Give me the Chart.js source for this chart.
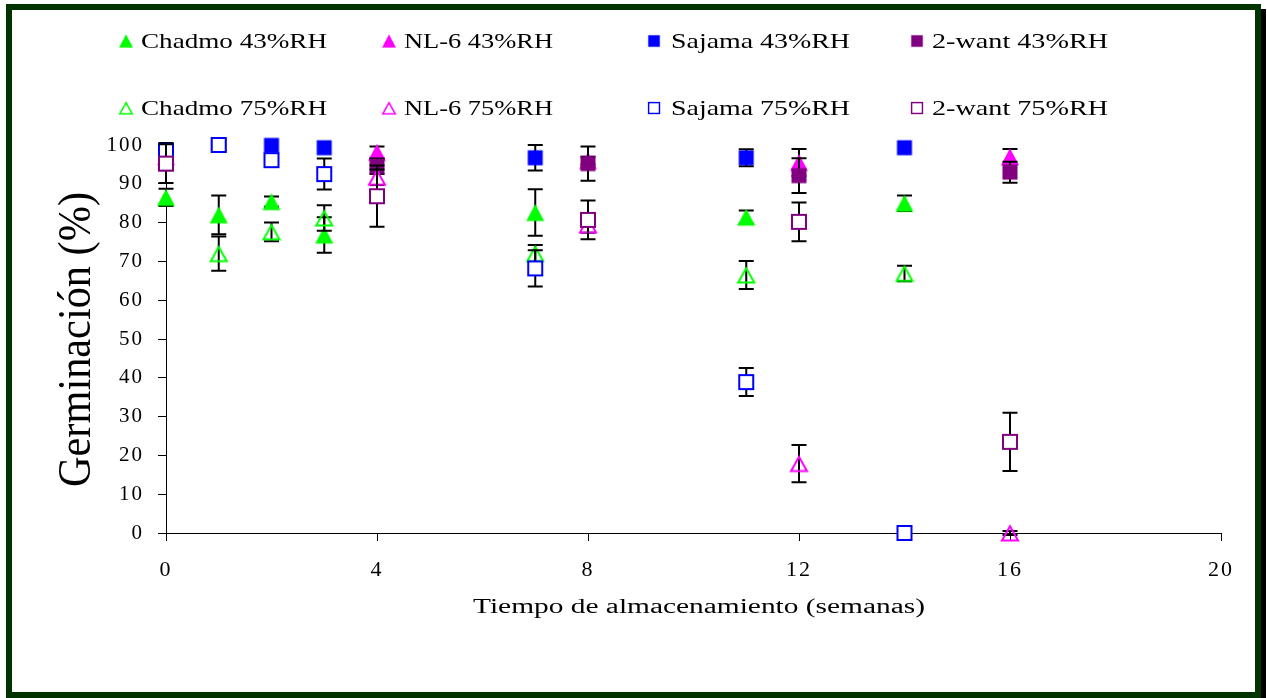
<!DOCTYPE html>
<html>
<head>
<meta charset="utf-8">
<title>Germinación</title>
<script src="https://cdn.jsdelivr.net/npm/chart.js@4.4.1/dist/chart.umd.min.js"></script>
<style>
  html, body { margin: 0; padding: 0; background: #fff; }
  #wrap { position: relative; width: 1267px; height: 698px; overflow: hidden; }
  #chart { position: absolute; left: 0; top: 0; }
  #frame {
    position: absolute; left: 6px; top: 4px; width: 1255px; height: 694px;
    box-sizing: border-box; border: 6px solid #003300;
    box-shadow: 5px 5px 0 #000; pointer-events: none;
  }
</style>
</head>
<body>
<div id="wrap">
  <canvas id="chart" width="1267" height="698"></canvas>
  <div id="frame"></div>
</div>
<script>
// sampling weeks: Chadmo and Sajama on one schedule, NL-6 and 2-want on another
const weeksA = [0, 1, 2, 3, 7, 11, 14];
const weeksB = [0, 4, 8, 12, 16];

const chadmo43 = [86.5, 82, 85.4, 76.8, 82.6, 81.4, 85];
const chadmo43Err = [2.2, 5, 1.3, 4.6, 6, 1.7, 2];
const chadmo75 = [null, 72, 77.6, 81.2, 72, 66.5, 66.9];
const chadmo75Err = [null, 4.4, 2.4, 3.3, 2.2, 3.6, 2];

const sajama43 = [98.5, 100, 99.9, 99.3, 96.7, 96.7, 99.3];
const sajama43Err = [null, null, null, null, 3.3, 2.2, null];
const sajama75 = [98.5, 100, 96.1, 92.5, 68.2, 38.9, 0];
const sajama75Err = [2, 1.5, 1.5, 4, 4.7, 3.6, 0.3];

const nl643 = [97, 98.1, 96, 95.5, 97];
const nl643Err = [1, 1.5, 1, 3.5, 2];
const nl675 = [null, 91.7, 79.4, 17.9, 0];
const nl675Err = [null, 2, 2, 4.8, 0.5];

const want43 = [95.2, 94.5, 95.2, 92.1, 93];
const want43Err = [1, 2, 4.4, 4.5, 2.7];
const want75 = [95.2, 86.8, 80.7, 80.2, 23.5];
const want75Err = [5, 7.9, 5, 5, 7.5];

const xTicks = [0, 4, 8, 12, 16, 20];
const yTicks = [0, 10, 20, 30, 40, 50, 60, 70, 80, 90, 100];

const GREEN = "#00ff00", MAGENTA = "#ff00ff", BLUE = "#0000ff", PURPLE = "#800080";
const SERIF = '"Liberation Serif", "Times New Roman", serif';

// little canvases used as point styles (Excel-like markers)
function marker(shape, color, filled) {
  const c = document.createElement("canvas");
  const s = shape === "tri" ? 20 : 18;
  c.width = s; c.height = s;
  const g = c.getContext("2d");
  g.lineWidth = 2;
  g.strokeStyle = color;
  g.fillStyle = color;
  if (shape === "tri") {
    g.beginPath();
    if (filled) {
      g.moveTo(10, 1.5); g.lineTo(19, 18.5); g.lineTo(1, 18.5);
      g.closePath(); g.fill();
    } else {
      g.moveTo(10, 3.2); g.lineTo(18, 17.5); g.lineTo(2, 17.5);
      g.closePath(); g.stroke();
    }
  } else {
    if (filled) {
      g.fillRect(1.5, 1.5, 15, 15);
    } else {
      g.fillStyle = "#fff";
      g.fillRect(2, 2, 14, 14);
      g.strokeRect(2, 2, 14, 14);
    }
  }
  return c;
}

const series = [
  { label: "Chadmo 43%RH", x: weeksA, y: chadmo43, e: chadmo43Err, color: GREEN, shape: "tri", filled: true },
  { label: "NL-6 43%RH", x: weeksB, y: nl643, e: nl643Err, color: MAGENTA, shape: "tri", filled: true },
  { label: "Sajama 43%RH", x: weeksA, y: sajama43, e: sajama43Err, color: BLUE, shape: "sq", filled: true },
  { label: "2-want 43%RH", x: weeksB, y: want43, e: want43Err, color: PURPLE, shape: "sq", filled: true },
  { label: "Chadmo 75%RH", x: weeksA, y: chadmo75, e: chadmo75Err, color: GREEN, shape: "tri", filled: false },
  { label: "NL-6 75%RH", x: weeksB, y: nl675, e: nl675Err, color: MAGENTA, shape: "tri", filled: false },
  { label: "Sajama 75%RH", x: weeksA, y: sajama75, e: sajama75Err, color: BLUE, shape: "sq", filled: false },
  { label: "2-want 75%RH", x: weeksB, y: want75, e: want75Err, color: PURPLE, shape: "sq", filled: false }
];

const datasets = series.map((s, i) => ({
  label: s.label,
  data: s.x.map((w, k) => ({ x: w, y: s.y[k], e: s.e[k] })).filter(p => p.y !== null),
  pointStyle: marker(s.shape, s.color, s.filled),
  pointRadius: 9,
  pointHoverRadius: 9,
  showLine: false,
  clip: false,
  order: series.length - i // later series on top, like Excel
}));

// black error bars, drawn just under each series' markers
const errorBars = {
  id: "errorBars",
  beforeDatasetDraw(chart, args) {
    const ctx = chart.ctx, ys = chart.scales.y;
    const data = chart.data.datasets[args.index].data;
    ctx.save();
    ctx.strokeStyle = "#000";
    ctx.lineWidth = 2;
    args.meta.data.forEach((pt, k) => {
      const e = data[k].e;
      if (!e) return;
      const top = ys.getPixelForValue(data[k].y + e);
      const bot = ys.getPixelForValue(data[k].y - e);
      ctx.beginPath();
      ctx.moveTo(pt.x, top); ctx.lineTo(pt.x, bot);
      ctx.moveTo(pt.x - 7.5, top); ctx.lineTo(pt.x + 7.5, top);
      ctx.moveTo(pt.x - 7.5, bot); ctx.lineTo(pt.x + 7.5, bot);
      ctx.stroke();
    });
    ctx.restore();
  }
};

// text stretched to a given width (the original figure is wide-set)
function fitText(ctx, text, font, x, y, targetW, align, angle, thick) {
  ctx.save();
  ctx.font = font;
  ctx.letterSpacing = "0px";
  const w = ctx.measureText(text).width;
  ctx.translate(x, y);
  if (angle) ctx.rotate(angle);
  ctx.scale(targetW / w, thick || 1);
  ctx.textAlign = align;
  ctx.textBaseline = "alphabetic";
  ctx.fillStyle = "#000";
  ctx.fillText(text, 0, 0);
  ctx.restore();
}

const legendMarkX = [126, 389, 654, 917];
const legendTextX = [141, 404, 671, 932];
const legendTextW = [186, 149, 179, 176];
const legendRowY = [41, 108];

const textLayer = {
  id: "textLayer",
  beforeDraw(chart) {
    chart.ctx.letterSpacing = "2px";
  },
  afterDraw(chart) {
    const ctx = chart.ctx;
    chart.data.datasets.forEach((ds, i) => {
      const col = i % 4, row = Math.floor(i / 4);
      const img = ds.pointStyle;
      const w = img.width * 0.78, h = img.height * 0.78;
      ctx.drawImage(img, legendMarkX[col] - w / 2, legendRowY[row] - h / 2, w, h);
      fitText(ctx, ds.label, "21px " + SERIF, legendTextX[col], legendRowY[row] + 7.3,
        legendTextW[col], "left");
    });
    fitText(ctx, "Tiempo de almacenamiento (semanas)", "20px " + SERIF, 699, 613, 452, "center");
    fitText(ctx, "Germinación (%)", "38px " + SERIF, 90, 339.5, 295, "center", -Math.PI / 2, 1.2);
  }
};

new Chart(document.getElementById("chart"), {
  type: "scatter",
  data: { datasets },
  plugins: [errorBars, textLayer],
  options: {
    responsive: false,
    animation: false,
    devicePixelRatio: 1,
    layout: { padding: { top: 145, right: 46, bottom: 0, left: 0 } },
    plugins: { legend: { display: false }, tooltip: { enabled: false } },
    scales: {
      x: {
        type: "linear",
        min: 0,
        max: 20,
        afterBuildTicks: s => { s.ticks = xTicks.map(v => ({ value: v })); },
        afterFit: s => { s.height = 165; },
        grid: { drawOnChartArea: false, drawTicks: true, tickLength: 8, color: "#000", lineWidth: 1 },
        border: { display: true, color: "#000", width: 1 },
        ticks: { font: { family: SERIF, size: 22 }, color: "#000", padding: 16, maxRotation: 0 }
      },
      y: {
        min: 0,
        max: 100,
        afterBuildTicks: s => { s.ticks = yTicks.map(v => ({ value: v })); },
        afterFit: s => { s.width = 166; },
        grid: { drawOnChartArea: false, drawTicks: true, tickLength: 8, color: "#000", lineWidth: 1 },
        border: { display: true, color: "#000", width: 1 },
        ticks: { font: { family: SERIF, size: 21 }, color: "#000", padding: 14 }
      }
    }
  }
});
</script>
</body>
</html>
